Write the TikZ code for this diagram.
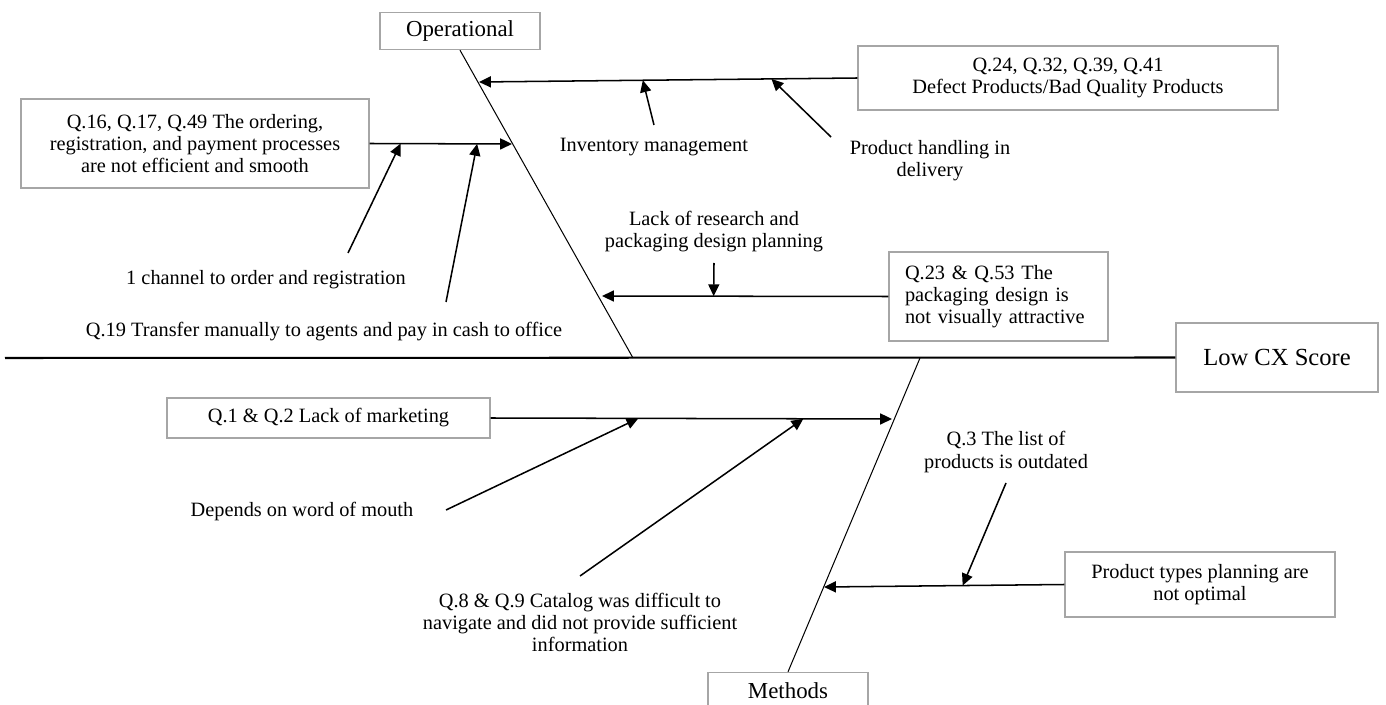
\documentclass[tikz,border=0pt]{standalone}
\usepackage{fontspec}
\setmainfont{Liberation Serif}
\usetikzlibrary{arrows.meta,calc}
\newcommand{\pxl}{0.59pt}

\begin{document}
\begin{tikzpicture}[x=0.59pt,y=-0.59pt,
	font=\fontsize{12}{13}\selectfont,
	cause/.style={draw=gray!70,line width=0.8pt,fill=white,align=center,inner sep=0pt},
	head/.style={cause,minimum width=160*\pxl,minimum height=37*\pxl,font=\fontsize{13.5}{15}\selectfont},
	note/.style={align=center,inner sep=0pt},
	bone/.style={line width=0.6pt},
	feed/.style={line width=0.9pt,-{Triangle[length=7pt,width=6.5pt]}}]
	\useasboundingbox (0,0) rectangle (1386,705);
	\clip (0,0) rectangle (1386,705);

	\node[head] (op) at (460,31) {Operational};
	\node[head] (me) at (788,691) {Methods};
	\node[cause,minimum width=202*\pxl,minimum height=69*\pxl,font=\fontsize{14.5}{16}\selectfont] (cx) at (1277,357.5) {Low CX Score};

	\coordinate (spine) at (5,358);
	\coordinate (opE) at (633,358);
	\coordinate (meE) at (920,358);
	\draw[line width=1.2pt] (spine) -- (cx.west);
	\draw[bone] (op.south) -- (opE);
	\draw[bone] (me.north) -- (meE);

	\node[cause,minimum width=420*\pxl,minimum height=64*\pxl] (q24) at (1068,78) {Q.24, Q.32, Q.39, Q.41\\Defect Products/Bad Quality Products};
	\node[cause,minimum width=348*\pxl,minimum height=89*\pxl] (q16) at (195,143.5) {Q.16, Q.17, Q.49 The ordering,\\registration, and payment processes\\are not efficient and smooth};
	\node[cause,align=left,text width=187*\pxl,inner xsep=16*\pxl,minimum height=89*\pxl] (q23) at (998.5,296.5) {Q.23 \& Q.53 The\\packaging design is\\not visually attractive};
	\node[cause,minimum width=323*\pxl,minimum height=40*\pxl] (q1) at (328.5,418) {Q.1 \& Q.2 Lack of marketing};
	\node[cause,minimum width=270*\pxl,minimum height=65*\pxl] (prod) at (1200,584.5) {Product types planning are\\not optimal};

	\node[note] (inv) at (654,147) {Inventory management};
	\node[note] (hand) at (930,161) {Product handling in\\delivery};
	\node[note] (chan) at (266,280) {1 channel to order and registration};
	\node[note] (q19) at (324,332) {Q.19 Transfer manually to agents and pay in cash to office};
	\node[note] (lack) at (714,232) {Lack of research and\\packaging design planning};
	\node[note] (word) at (302,512) {Depends on word of mouth};
	\node[note] (q89) at (580,622) {Q.8 \& Q.9 Catalog was difficult to\\navigate and did not provide sufficient\\information};
	\node[note] (q3) at (1006,452) {Q.3 The list of\\products is outdated};

	\coordinate (t24) at (479,82);
	\coordinate (t16) at (512,144);
	\coordinate (t23) at (602,296);
	\coordinate (t1) at (892,419);
	\coordinate (tp) at (824,587);
	\coordinate (invT) at (654,125);
	\coordinate (handT) at (831,137);
	\coordinate (chanT) at (348,253);
	\coordinate (q19T) at (446,302);
	\coordinate (lackT) at (714,263);
	\coordinate (wordT) at (446,510);
	\coordinate (q89T) at (580,576);
	\coordinate (q3T) at (1006,483);

	\path[feed]
	(q24.west) edge (t24)
	(invT) edge ($(q24.west)!0.567!(t24)$)
	(handT) edge ($(q24.west)!0.227!(t24)$)
	(q16.east) edge (t16)
	(chanT) edge ($(q16.east)!0.217!(t16)$)
	(q19T) edge ($(q16.east)!0.755!(t16)$)
	(q23.west) edge (t23)
	(lackT) edge ($(q23.west)!0.61!(t23)$)
	(q1.east) edge (t1)
	(wordT) edge ($(q1.east)!0.368!(t1)$)
	(q89T) edge ($(q1.east)!0.779!(t1)$)
	(prod.west) edge (tp)
	(q3T) edge ($(prod.west)!0.423!(tp)$);
\end{tikzpicture}
\end{document}
